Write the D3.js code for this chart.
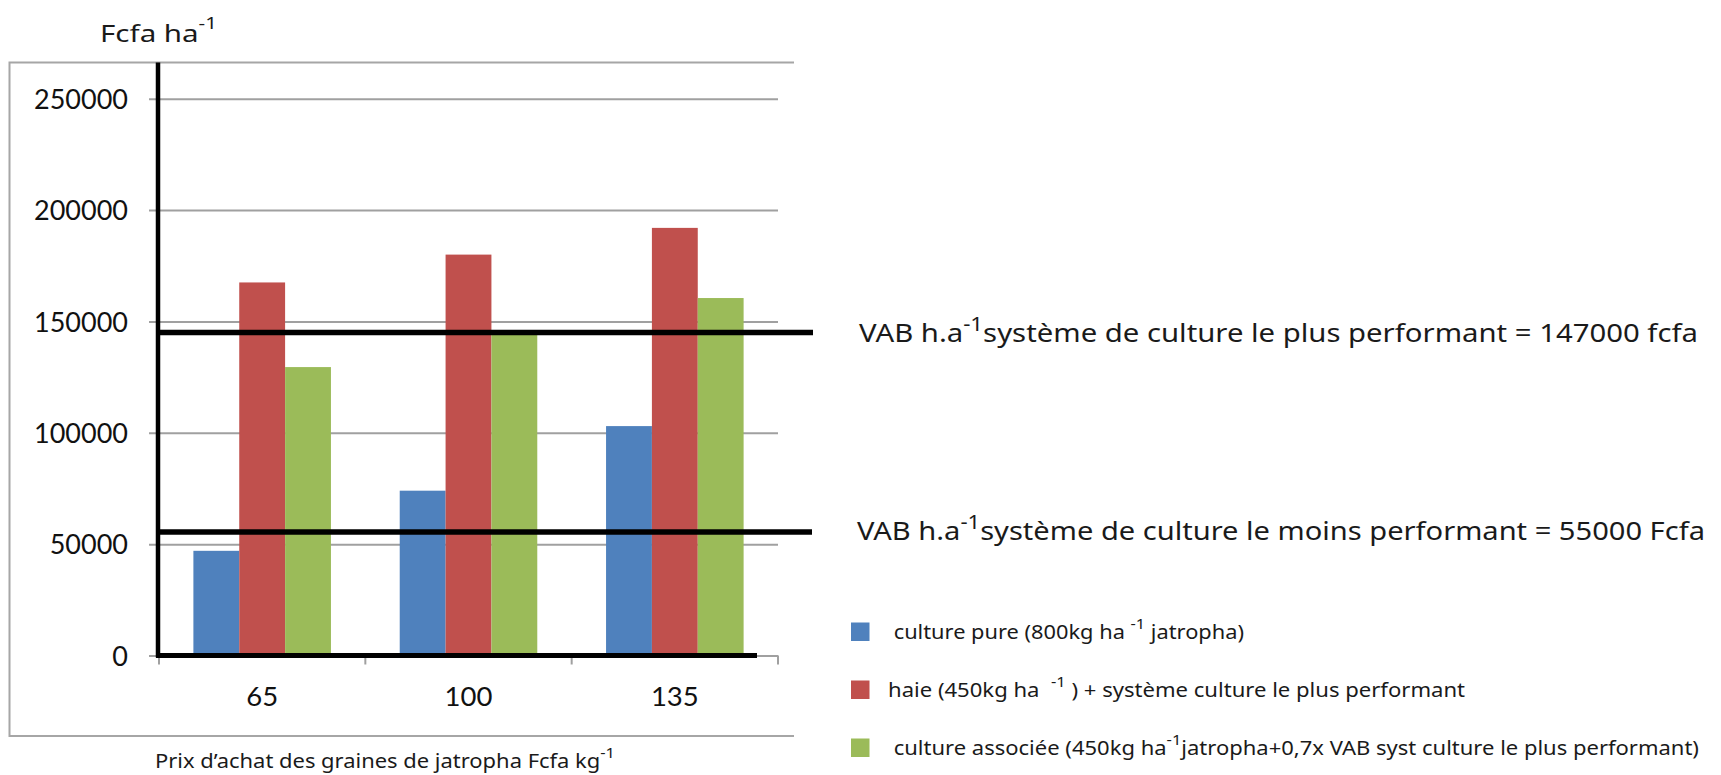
<!DOCTYPE html>
<html>
<head>
<meta charset="utf-8">
<script src="https://cdn.jsdelivr.net/npm/d3@7"></script>
<style>
  body { margin: 0; background: #fff; }
  .hand { font-family: "Noto Sans", sans-serif; fill: #1a1a1a; white-space: pre; }
  .num { font-family: Lato, "Open Sans", sans-serif; fill: #111; }
</style>
</head>
<body>
<div id="plot"></div>
<script>
// categories (purchase price of jatropha seeds, Fcfa/kg)
const prices = ["65", "100", "135"];

// series values, Fcfa/ha
const culturePure = [47000, 74000, 103000];
const haie = [167500, 180000, 192000];
const cultureAssociee = [129500, 144000, 160500];

const seriesColors = ["#4f81bd", "#c0504d", "#9bbb59"];

// y ticks
const yTicks = [0, 50000, 100000, 150000, 200000, 250000];

// hand drawn reference lines (where they sit on the chart) and their labels
const refLines = [145000, 55500];
const refLabels = [
  ["VAB h.a", "-1", "système de culture le plus performant = 147000 fcfa"],
  ["VAB h.a", "-1", "système de culture le moins performant = 55000 Fcfa"]
];

const legendLabels = [
  [" culture pure (800kg ha ", "-1", " jatropha)"],
  ["haie (450kg ha  ", "-1", " ) + système culture le plus performant"],
  [" culture associée (450kg ha", "-1", "jatropha+0,7x VAB syst culture le plus performant)"]
];

const yTitle = ["Fcfa ha", "-1", ""];
const xTitle = ["Prix d\u2019achat des graines de jatropha Fcfa kg", "-1", ""];

// ---- layout ----
const w = 1721, h = 775;
const plotLeft = 159, plotRight = 778;
const yZero = 655.5, yTop = 98.7;

const svg = d3.select("div#plot")
  .append("svg")
  .attr("width", w)
  .attr("height", h);

// text with a superscript in the middle
function supText(sel, parts, supSize, supShift) {
  sel.append("tspan").text(parts[0]);
  sel.append("tspan")
    .attr("dy", -supShift)
    .style("font-size", supSize + "px")
    .text(parts[1]);
  if (parts[2] !== "") {
    sel.append("tspan").attr("dy", supShift).text(parts[2]);
  }
  return sel;
}

// chart frame (top, left, bottom)
const frame = {x0: 9.5, x1: 794, y0: 62.5, y1: 736};
svg.append("path")
  .attr("d", `M${frame.x1},${frame.y0}H${frame.x0}V${frame.y1}H${frame.x1}`)
  .attr("fill", "none")
  .attr("stroke", "#a6a6a6")
  .attr("stroke-width", 2);

// scales
const x = d3.scaleBand()
  .domain(prices)
  .range([plotLeft, plotRight]);

const xs = d3.scaleBand()
  .domain(d3.range(3))
  .range([0, x.bandwidth()])
  .paddingInner(0)
  .paddingOuter(0.75);

const y = d3.scaleLinear()
  .domain([0, 250000])
  .range([yZero, yTop]);

// gridlines + left ticks (axis placed on the right so ticks run leftwards)
const tickLen = plotRight - 149;
const yAxis = d3.axisLeft(y)
  .tickValues(yTicks)
  .tickSize(tickLen)
  .tickPadding(21)
  .tickFormat(d3.format("d"));

const gy = svg.append("g")
  .attr("transform", `translate(${plotRight},0)`)
  .call(yAxis);
gy.select(".domain").remove();
gy.selectAll(".tick line")
  .attr("stroke", "#a0a0a0")
  .attr("stroke-width", 2);
gy.selectAll(".tick text")
  .attr("class", "num")
  .style("font-size", "27px")
  .attr("dy", "0.36em");

// category tick marks on band edges
const edges = prices.map(p => x(p)).concat([x.range()[1]]);
svg.append("g")
  .selectAll("line")
  .data(edges)
  .join("line")
  .attr("x1", d => d)
  .attr("x2", d => d)
  .attr("y1", yZero)
  .attr("y2", yZero + 9)
  .attr("stroke", "#a0a0a0")
  .attr("stroke-width", 2);

// category labels
const xAxis = d3.axisBottom(x)
  .tickSize(0)
  .tickPadding(30.5);
const gx = svg.append("g")
  .attr("transform", `translate(0,${yZero})`)
  .call(xAxis);
gx.select(".domain").remove();
gx.selectAll(".tick text")
  .attr("class", "num")
  .style("font-size", "27.5px");

// bars
const table = prices.map((p, i) => ({
  price: p,
  values: [culturePure[i], haie[i], cultureAssociee[i]]
}));

svg.append("g")
  .selectAll("g")
  .data(table)
  .join("g")
  .attr("transform", d => `translate(${x(d.price)},0)`)
  .selectAll("rect")
  .data(d => d.values.map((v, k) => ({k: k, v: v})))
  .join("rect")
  .attr("x", d => xs(d.k))
  .attr("y", d => y(d.v))
  .attr("width", xs.bandwidth())
  .attr("height", d => yZero - y(d.v))
  .attr("fill", d => seriesColors[d.k]);

// thick black axes drawn over
svg.append("line")
  .attr("x1", plotLeft - 1).attr("x2", plotLeft - 1)
  .attr("y1", frame.y0).attr("y2", yZero + 2)
  .attr("stroke", "#000").attr("stroke-width", 4.5);

svg.append("line")
  .attr("x1", plotLeft - 3).attr("x2", 757)
  .attr("y1", yZero).attr("y2", yZero)
  .attr("stroke", "#000").attr("stroke-width", 5);

// reference lines + labels
const refEnd = [813, 812];
const refLabelX = [859, 857];
const refLabelW = [839, 848];
refLines.forEach((v, i) => {
  svg.append("line")
    .attr("x1", plotLeft).attr("x2", refEnd[i])
    .attr("y1", y(v)).attr("y2", y(v))
    .attr("stroke", "#000").attr("stroke-width", 5.5);
});

const refBaselines = [341.5, 540];
refLabels.forEach((parts, i) => {
  const t = svg.append("text")
    .attr("class", "hand")
    .attr("x", refLabelX[i])
    .attr("y", refBaselines[i])
    .style("font-size", "25px")
    .attr("textLength", refLabelW[i])
    .attr("lengthAdjust", "spacingAndGlyphs");
  supText(t, parts, 19, 11);
});

// axis titles
const yt = svg.append("text")
  .attr("class", "hand")
  .attr("x", 100)
  .attr("y", 41.5)
  .style("font-size", "23px")
  .attr("textLength", 117)
  .attr("lengthAdjust", "spacingAndGlyphs");
supText(yt, yTitle, 16, 13);

const xt = svg.append("text")
  .attr("class", "hand")
  .attr("x", 155)
  .attr("y", 768)
  .style("font-size", "20px")
  .attr("textLength", 460)
  .attr("lengthAdjust", "spacingAndGlyphs");
supText(xt, xTitle, 15, 10);

// legend
const legendTextW = [356, 577, 811];
const legend = svg.append("g")
  .selectAll("g")
  .data(legendLabels)
  .join("g")
  .attr("transform", (d, i) => `translate(851,${631.7 + i * 58})`);

legend.append("rect")
  .attr("x", 0)
  .attr("y", -9.2)
  .attr("width", 18.5)
  .attr("height", 18.5)
  .attr("fill", (d, i) => seriesColors[i]);

legend.append("text")
  .attr("class", "hand")
  .attr("x", 37)
  .attr("y", 7.5)
  .style("font-size", "20px")
  .attr("textLength", (d, i) => legendTextW[i])
  .attr("lengthAdjust", "spacingAndGlyphs")
  .each(function(d) { supText(d3.select(this), d, 15, 10); });
</script>
</body>
</html>
